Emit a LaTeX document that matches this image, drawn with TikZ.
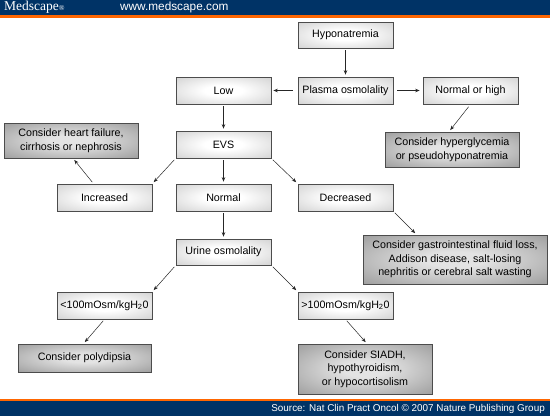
\documentclass[tikz,border=0pt]{standalone}
\usepackage{fontspec}
\setmainfont{Liberation Sans}
\newfontfamily\medfont{Liberation Serif}
\usetikzlibrary{arrows.meta, positioning, calc}
\definecolor{mednavy}{RGB}{0,51,102}
\definecolor{medorange}{RGB}{255,102,0}
\pgfdeclareradialshading{lightglow}{\pgfpoint{0bp}{0bp}}%
  {color(0bp)=(white); color(10bp)=(white); color(50bp)=(black!27)}
\pgfdeclareradialshading{darkglow}{\pgfpoint{0bp}{0bp}}%
  {color(0bp)=(black!11); color(8bp)=(black!11); color(50bp)=(black!52)}
\tikzset{
  lbox/.style  = {draw=black!70, line width=0.7pt, shade, shading=lightglow,
                  minimum width=95pt, minimum height=27pt, inner xsep=1pt,
                  align=center, font=\fontsize{10.7}{13.5}\selectfont},
  dbox/.style  = {lbox, shading=darkglow, minimum width=134pt},
  arr/.style   = {-{Stealth[length=4.5pt, width=3.5pt]}, line width=0.5pt, black!85,
                  shorten <=2pt, shorten >=2pt},
}

\begin{document}
\begin{tikzpicture}[x=1pt, y=-1pt]
\useasboundingbox (0,0) rectangle (550,416);
% header and footer bars
\fill[mednavy] (0,0) rectangle (550,15);
\fill[medorange] (0,15) rectangle (550,17.5);
\fill[medorange] (0,398.5) rectangle (550,401);
\fill[mednavy] (0,401) rectangle (550,416);
\node[anchor=west, text=white, inner sep=0pt, font=\medfont\fontsize{13.5}{14}\selectfont] (brand) at (4,7.5) {Medscape\raisebox{0.5pt}{\fontsize{7.5}{8}\selectfont\textregistered}};
\node[anchor=west, text=white, inner sep=0pt, font=\fontsize{11.8}{13}\selectfont] (site) at (120,7.5) {www.medscape.com};
\node[anchor=east, text=white, inner sep=0pt, font=\fontsize{9.9}{11}\selectfont] (source) at (545,408.5) {Source: Nat Clin Pract Oncol \textcopyright{} 2007 Nature Publishing Group};

% boxes
\node[lbox, minimum height=26pt] (hypo) at (345.5,35) {Hyponatremia};
\node[lbox] (plasma)    at (345.5,90.5)  {Plasma osmolality};
\node[lbox] (low)       at (223.5,90.5)  {Low};
\node[lbox] (normhigh)  at (470.5,90.5)  {Normal or high};
\node[dbox, minimum height=35pt] (hyperg) at (452,149.5) {Consider hyperglycemia\\or pseudohyponatremia};
\node[lbox] (evs)       at (223.5,144.5) {EVS};
\node[dbox, minimum height=35pt] (heart) at (71,140.5) {Consider heart failure,\\cirrhosis or nephrosis};
\node[lbox] (increased) at (104.5,197.5) {Increased};
\node[lbox] (normal)    at (223.5,197.5) {Normal};
\node[lbox] (decreased) at (345.5,197.5) {Decreased};
\node[dbox, minimum width=184pt, minimum height=49pt] (gi) at (455,259.5)
  {Consider gastrointestinal fluid loss,\\Addison disease, salt-losing\\nephritis or cerebral salt wasting};
\node[lbox, minimum height=26pt] (urine) at (223.5,252) {Urine osmolality};
\node[lbox] (low100)    at (104.5,305.5) {<100mOsm/kgH\textsubscript{2}0};
\node[lbox] (high100)   at (345.5,305.5) {>100mOsm/kgH\textsubscript{2}0};
\node[dbox, minimum width=133pt, minimum height=28pt] (polyd) at (84.5,358) {Consider polydipsia};
\node[dbox, minimum height=50pt] (siadh) at (365,369) {Consider SIADH,\\hypothyroidism,\\or hypocortisolism};

% connectors
\foreach \a/\b in {hypo/plasma, low/evs, evs/normal, normal/urine} {
  \draw[arr] (\a) -- (\b);
}
\draw[arr, shorten <=5pt] (plasma) -- (low);
\draw[arr, shorten <=4pt, shorten >=3pt] (plasma) -- (normhigh);
\draw[arr, shorten <=3pt] (normhigh.south) -- ($(hyperg.north)+(-3,0)$);
\draw[arr] (evs.south west) -- (increased.north east);
\draw[arr] (evs.south east) -- (decreased.north west);
\draw[arr] ($(increased.north)+(-11,0)$) -- ($(heart.south)+(2,0)$);
\draw[arr] (decreased.south east) -- ($(gi.north west)+(54,0)$);
\draw[arr] (urine.south west) -- (low100.north east);
\draw[arr] (urine.south east) -- (high100.north west);
\draw[arr] (low100.south) -- ($(polyd.north)+(-1,0)$);
\draw[arr] (high100.south) -- ($(siadh.north)+(2,0)$);
\end{tikzpicture}
\end{document}
